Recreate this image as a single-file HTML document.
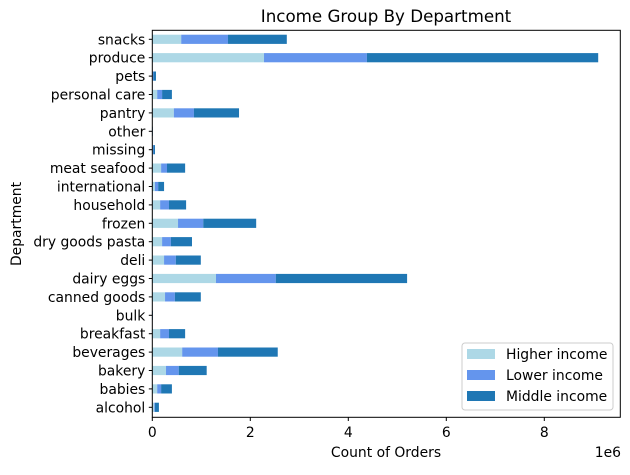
<!DOCTYPE html>
<html><head><meta charset="utf-8"><style>
body{margin:0;background:#fff;}
svg text{font-family:"DejaVu Sans","Liberation Sans",sans-serif;fill:#000;}
</style></head><body>
<svg id="chart" width="630" height="470" viewBox="0 0 630 470" xmlns="http://www.w3.org/2000/svg">
<rect width="630" height="470" fill="#fff"/>
<text x="386" y="22" font-size="16.7" text-anchor="middle">Income Group By Department</text>
<g id="bars"></g>
<g id="yaxis"></g>
<g id="xaxis"></g>
<rect x="152.3" y="30.3" width="468" height="387" fill="none" stroke="#000" stroke-width="1"/>
<text transform="translate(21,224) rotate(-90)" font-size="13.9" text-anchor="middle">Department</text>
<text x="386" y="457" font-size="13.9" text-anchor="middle">Count of Orders</text>
<text x="621" y="457" font-size="13.9" text-anchor="end">1e6</text>
<g>
<rect x="462" y="343" width="151" height="67" rx="3" fill="#fff" fill-opacity="0.8" stroke="#ccc"/>
<rect x="467" y="349" width="28" height="10" fill="#add8e6"/>
<text x="506" y="359" font-size="13.9">Higher income</text>
<rect x="467" y="370" width="28" height="10" fill="#6495ed"/>
<text x="506" y="380" font-size="13.9">Lower income</text>
<rect x="467" y="391" width="28" height="10" fill="#1f77b4"/>
<text x="506" y="401" font-size="13.9">Middle income</text>
</g>
</svg>
<script>
const categories = ["alcohol","babies","bakery","beverages","breakfast","bulk","canned goods","dairy eggs","deli","dry goods pasta","frozen","household","international","meat seafood","missing","other","pantry","personal care","pets","produce","snacks"];
const higherIncome = [0.04,0.10,0.28,0.61,0.16,0.003,0.26,1.30,0.24,0.20,0.525,0.16,0.055,0.18,0.012,0.002,0.44,0.10,0.01,2.28,0.59];
const lowerIncome  = [0.015,0.08,0.26,0.73,0.18,0.002,0.20,1.22,0.24,0.18,0.515,0.18,0.065,0.12,0.013,0.002,0.41,0.10,0.015,2.10,0.955];
const middleIncome = [0.08,0.22,0.57,1.22,0.33,0.006,0.53,2.68,0.51,0.43,1.08,0.35,0.12,0.37,0.03,0.005,0.92,0.20,0.05,4.72,1.20];
const xTicks = [0,2,4,6,8];
const seriesColors = ["#add8e6","#6495ed","#1f77b4"];
const seriesNames = ["higher","lower","middle"];

const NS="http://www.w3.org/2000/svg";
const x0=152.3, x1=620.3, xMax=9.551;
const xs=v=>x0+v/xMax*(x1-x0);
const yTop=39.3, yStep=18.4;
const ys=i=>yTop+(categories.length-1-i)*yStep;
const barH=9.2;
function mk(tag,attrs,parent){const e=document.createElementNS(NS,tag);for(const k in attrs)e.setAttribute(k,attrs[k]);parent.appendChild(e);return e;}
const bars=document.getElementById('bars'), ya=document.getElementById('yaxis'), xa=document.getElementById('xaxis');
const series=[higherIncome,lowerIncome,middleIncome];
categories.forEach((c,i)=>{
  let acc=0;
  series.forEach((s,k)=>{
    const r=mk('rect',{x:xs(acc),y:ys(i)-barH/2,width:Math.max(0,xs(acc+s[i])-xs(acc)),height:barH,fill:seriesColors[k]},bars);
    
    
    acc+=s[i];
  });
  const t=mk('line',{x1:x0-3.5,x2:x0,y1:ys(i),y2:ys(i),stroke:'#000'},ya);
  
  
  const l=mk('text',{x:x0-7,y:ys(i)+5,'font-size':13.9,'text-anchor':'end'},ya);
  l.textContent=c;
  
  
});
xTicks.forEach(v=>{
  const t=mk('line',{x1:xs(v),x2:xs(v),y1:417.3,y2:421,stroke:'#000'},xa);
  
  
  const l=mk('text',{x:xs(v),y:437,'font-size':13.9,'text-anchor':'middle'},xa);
  l.textContent=v;
  
  
});
</script>
</body></html>
